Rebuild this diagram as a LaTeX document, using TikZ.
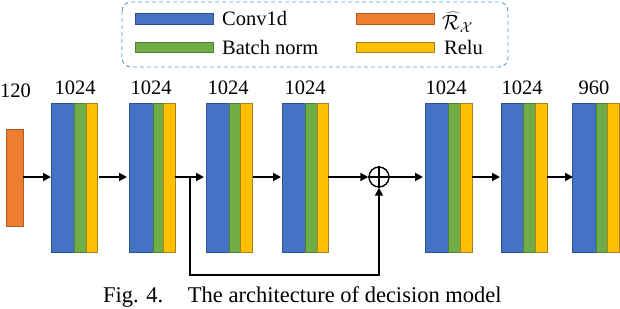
\documentclass[tikz,border=0pt]{standalone}
\usepackage{fontspec}
\setmainfont{Liberation Serif}
\usetikzlibrary{arrows.meta}
\definecolor{cblue}{HTML}{4472C4}
\definecolor{cbluedk}{HTML}{2F528F}
\definecolor{cgreen}{HTML}{70AD47}
\definecolor{cgreendk}{HTML}{507E32}
\definecolor{cyel}{HTML}{FFC000}
\definecolor{cyeldk}{HTML}{A6821E}
\definecolor{corange}{HTML}{ED7D31}
\definecolor{corangedk}{HTML}{AE5A21}
\definecolor{clegend}{HTML}{5B9BD5}
\tikzset{
  convbox/.style={fill=cblue,draw=cbluedk,line width=0.8pt},
  bnbox/.style={fill=cgreen,draw=cgreendk,line width=0.8pt},
  relubox/.style={fill=cyel,draw=cyeldk,line width=0.8pt},
  inbox/.style={fill=corange,draw=corangedk,line width=0.8pt},
  lbl/.style={font=\fontsize{20.5}{22}\selectfont,inner sep=0pt},
  conn/.style={line width=1.8pt,-{Triangle[length=8pt,width=8pt]}},
  legendbox/.style={draw=clegend,line width=0.9pt,rounded corners=9pt,dash pattern=on 4pt off 3pt}
}
\newcommand{\mkblock}[7]{%
  % #1 name, #2 x0, #3 x1, #4 x2, #5 x3, #6 label, #7 label x
  \path[convbox] (#2,103) rectangle (#3,252);
  \path[bnbox] (#3,103) rectangle (#4,252);
  \path[relubox] (#4,103) rectangle (#5,252);
  \coordinate (#1in) at (#2,177);
  \coordinate (#1out) at (#5,177);
  \node[lbl] (#1lab) at (#7,88) {#6};
}
\begin{document}
\begin{tikzpicture}[x=1pt,y=-1pt]
\useasboundingbox (0,0) rectangle (620,308);
% legend
\draw[legendbox] (122,2) rectangle (508,67);
\path[convbox] (135,13) rectangle (213,24);
\node[lbl,anchor=west] (lconv) at (222,18.5) {Conv1d};
\path[bnbox] (135,42) rectangle (213,52);
\node[lbl,anchor=west] (lr) at (442,22) {$\widehat{\mathcal{R}}_{\mathcal{X}}$};
\node[lbl,anchor=west] (lbn) at (222,47.5) {Batch norm};
\path[inbox] (356,13) rectangle (434,24);
\path[relubox] (356,42) rectangle (434,52);
\node[lbl,anchor=west] (lrelu) at (444,47.5) {Relu};
% input
\path[inbox] (6,129) rectangle (23,226);
\coordinate (inout) at (23,177);
\node[lbl,anchor=west] (inlab) at (0,91) {120};
% blocks
\mkblock{b1}{51}{74}{86}{97}{1024}{75}
\mkblock{b2}{129}{153}{163}{175}{1024}{151}
\mkblock{b3}{206}{229}{240}{252}{1024}{228}
\mkblock{b4}{282}{305}{317}{328}{1024}{305}
\mkblock{b5}{425}{448}{460}{472}{1024}{446}
\mkblock{b6}{501}{523}{535}{547}{1024}{522}
\mkblock{b7}{572}{596}{607}{619}{960}{594}
% adder
\node[draw,circle,line width=1.4pt,minimum size=20pt,inner sep=0pt] (add) at (379,177) {};
\draw[line width=1.4pt] (add.north) -- (add.south) (add.west) -- (add.east);
% connectors
\draw[conn] (inout) -- (b1in);
\draw[conn] ([xshift=2pt]b1out) -- ([xshift=-2pt]b2in);
\draw[conn] (b2out) -- ([xshift=-2pt]b3in);
\draw[conn] ([xshift=1pt]b3out) -- ([xshift=-1pt]b4in);
\draw[conn] (b4out) -- (add.west);
\draw[conn] (add.east) -- ([xshift=-2pt]b5in);
\draw[conn] (b5out) -- ([xshift=-1pt]b6in);
\draw[conn] (b6out) -- ([xshift=1pt]b7in);
\coordinate (split) at (190,177);
\coordinate (skipa) at (190,275);
\coordinate (skipb) at (379,275);
\draw[conn] (split) -- (skipa) -- (skipb) -- (add.south);
% caption
\node[font=\fontsize{22.5}{24}\selectfont,inner sep=0pt,anchor=base west] (cap) at (103,302) {Fig. 4.\hspace{1.1em}The architecture of decision model};
\end{tikzpicture}
\end{document}
